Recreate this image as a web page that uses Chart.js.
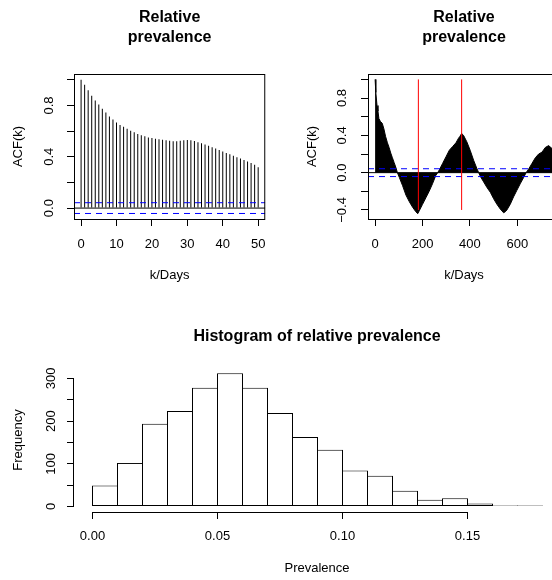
<!DOCTYPE html>
<html>
<head>
<meta charset="utf-8">
<script src="https://cdn.jsdelivr.net/npm/chart.js@4.4.0/dist/chart.umd.min.js"></script>
<style>
	html, body { margin: 0; padding: 0; background: #fff; overflow: hidden; width: 552px; height: 580px; }
	canvas { position: absolute; }
</style>
</head>
<body>
<canvas id="acfShort" width="276" height="300" style="left:0px;top:0px"></canvas>
<canvas id="acfLong" width="284" height="300" style="left:276px;top:0px"></canvas>
<canvas id="hist" width="560" height="280" style="left:0px;top:300px"></canvas>
<script>
// ACF of relative prevalence, lags 0..50 days
var shortLags = [0,1,2,3,4,5,6,7,8,9,10,11,12,13,14,15,16,17,18,19,20,21,22,23,24,25,26,27,28,29,30,31,32,33,34,35,36,37,38,39,40,41,42,43,44,45,46,47,48,49,50];
var shortAcf = [1.000,0.961,0.918,0.876,0.838,0.807,0.774,0.744,0.714,0.690,0.667,0.648,0.633,0.618,0.603,0.592,0.578,0.568,0.560,0.551,
	0.546,0.540,0.536,0.533,0.529,0.524,0.520,0.520,0.525,0.529,0.530,0.528,0.522,0.514,0.506,0.496,0.486,0.475,0.464,0.452,
	0.441,0.430,0.419,0.408,0.397,0.386,0.375,0.363,0.351,0.338,0.318];

// ACF over two years
var longLags = [0,3,8,12,16,22,30,37,44,52,59,66,73,80,87,94,102,116,130,144,158,172,180,186,200,214,228,242,256,264,271,285,299,313,327,341,352,358,365,373,
	387,401,416,430,437,444,458,472,486,500,514,528,542,549,556,570,584,598,612,627,637,648,662,676,690,704,718,732,746,750];
var longAcf = [1.00,0.86,0.72,0.66,0.58,0.55,0.53,0.47,0.39,0.32,0.27,0.21,0.16,0.11,0.06,0.00,-0.05,-0.14,-0.24,-0.31,-0.37,-0.42,-0.44,-0.41,-0.34,-0.27,-0.20,-0.12,-0.03,0.00,
	0.03,0.10,0.17,0.24,0.28,0.32,0.37,0.39,0.42,0.40,0.33,0.24,0.13,0.04,0.00,-0.04,-0.10,-0.16,-0.21,-0.28,-0.34,-0.39,-0.43,-0.42,-0.40,-0.34,-0.26,-0.19,-0.12,-0.05,
	0.00,0.04,0.10,0.16,0.20,0.22,0.27,0.29,0.26,0.25];
var seasonLines = [182.5, 365];   // half year and one year
var ciLimit = 0.042;

// histogram
var binEdges = [0,0.01,0.02,0.03,0.04,0.05,0.06,0.07,0.08,0.09,0.10,0.11,0.12,0.13,0.14,0.15,0.16,0.17,0.18];
var binCounts = [49,102,194,224,278,312,278,219,163,133,84,72,37,16,19,7,2,1];

// axis ticks
var shortXTicks = [0,10,20,30,40,50];
var shortYTicks = [0,0.2,0.4,0.6,0.8,1.0];
var shortYLabels = [0,0.4,0.8];
var longXTicks = [0,200,400,600];
var longYTicks = [-0.4,-0.2,0,0.2,0.4,0.6,0.8,1.0];
var longYLabels = [-0.4,0,0.4,0.8];
var histXTicks = [0,0.05,0.10,0.15];
var histYTicks = [0,50,100,150,200,250,300];
var histYLabels = [0,100,200,300];

var FONT = '"Liberation Sans", Arial, Helvetica, sans-serif';
Chart.defaults.font.family = FONT;
Chart.defaults.font.size = 13;
Chart.defaults.color = '#000';

function fmt1(v) {
	var s = Math.abs(v).toFixed(1);
	return v < 0 ? '\u2212' + s : s;
}

// R-like frame, axis lines and rotated y labels
function rAxes(cfg) {
	return {
		id: 'rAxes',
		afterDraw: function(chart) {
			var ctx = chart.ctx, a = chart.chartArea;
			var xs = chart.scales.x, ys = chart.scales.y;
			ctx.save();
			ctx.strokeStyle = '#000';
			ctx.lineWidth = 1;
			if (cfg.box) {
				ctx.strokeRect(a.left + 0.5, a.top + 0.5, a.right - a.left - 1, a.bottom - a.top);
			}
			if (cfg.xLine) {
				ctx.beginPath();
				ctx.moveTo(Math.floor(xs.getPixelForValue(cfg.xLine[0])), a.bottom + 0.5);
				ctx.lineTo(Math.floor(xs.getPixelForValue(cfg.xLine[1])) + 1, a.bottom + 0.5);
				ctx.stroke();
			}
			if (cfg.yLine) {
				ctx.beginPath();
				ctx.moveTo(a.left - 0.5, ys.getPixelForValue(cfg.yLine[0]));
				ctx.lineTo(a.left - 0.5, ys.getPixelForValue(cfg.yLine[1]));
				ctx.stroke();
			}
			ctx.fillStyle = '#000';
			ctx.font = '13px ' + FONT;
			ctx.textAlign = 'center';
			ctx.textBaseline = 'middle';
			cfg.yLabels.forEach(function(v) {
				ctx.save();
				ctx.translate(a.left - cfg.yOff, ys.getPixelForValue(v));
				ctx.rotate(-Math.PI / 2);
				ctx.fillText(cfg.yFmt(v), 0, 0);
				ctx.restore();
			});
			ctx.restore();
		}
	};
}

function xScale(min, max, ticks, fmt, tickPad, title, titlePad, height) {
	return {
		type: 'linear', min: min, max: max, offset: false,
		grid: { display: true, offset: false, drawOnChartArea: false, drawTicks: true, tickLength: 7, color: '#000' },
		border: { display: false },
		ticks: { padding: tickPad, maxRotation: 0, autoSkip: false, callback: fmt },
		title: { display: true, text: title, padding: { top: 0, bottom: titlePad } },
		afterBuildTicks: function(s) { s.ticks = ticks.map(function(v) { return { value: v }; }); },
		afterFit: function(s) { s.height = height; }
	};
}

function yScale(min, max, ticks, title, titlePad, width) {
	return {
		type: 'linear', min: min, max: max,
		grid: { display: true, drawOnChartArea: false, drawTicks: true, tickLength: 7, color: '#000' },
		border: { display: false },
		ticks: { display: false },
		title: { display: true, text: title, padding: { top: titlePad, bottom: 0 } },
		afterBuildTicks: function(s) { s.ticks = ticks.map(function(v) { return { value: v }; }); },
		afterFit: function(s) { s.width = width; }
	};
}

function hLine(x0, x1, y, color, dash, order) {
	return { type: 'line', data: [{ x: x0, y: y }, { x: x1, y: y }], borderColor: color, borderWidth: 1,
		borderDash: dash, pointRadius: 0, fill: false, order: order };
}

var titleOpts = { display: true, text: ['Relative', 'prevalence'], fullSize: false,
	font: { size: 16, weight: 'bold' }, color: '#000', padding: { top: 8.4, bottom: 27.2 } };

// --- short lag ACF
new Chart(document.getElementById('acfShort'), {
	type: 'bar',
	data: {
		datasets: [
			hLine(-2, 52, ciLimit, '#0000ff', [6, 5], 0),
			hLine(-2, 52, -ciLimit, '#0000ff', [6, 5], 0),
			hLine(-2, 52, 0, '#000', [], 1),
			{ type: 'bar', data: shortLags.map(function(k, i) { return { x: k, y: shortAcf[i] }; }),
				backgroundColor: '#000', barThickness: 1, inflateAmount: 0, order: 2 }
		]
	},
	options: {
		responsive: false, animation: false, devicePixelRatio: 1,
		layout: { padding: { left: 0, right: 9, top: 0, bottom: 0 } },
		plugins: { legend: { display: false }, tooltip: { enabled: false }, title: titleOpts },
		scales: {
			x: xScale(-2, 52, shortXTicks, function(v) { return String(v); }, 10.2, 'k/Days', 17.2, 81),
			y: yScale(-0.085, 1.045, shortYTicks, 'ACF(k)', 10.9, 74)
		}
	},
	plugins: [rAxes({ box: true, yLabels: shortYLabels, yFmt: fmt1, yOff: 24.5 })]
});

// --- two year ACF
var longSets = [
	hLine(-30, 780, ciLimit, '#0000ff', [6, 5], 1),
	hLine(-30, 780, -ciLimit, '#0000ff', [6, 5], 1),
	hLine(-30, 780, 0, '#000', [], 2),
	{ type: 'line', data: longLags.map(function(k, i) { return { x: k, y: longAcf[i] }; }),
		borderColor: '#000', backgroundColor: '#000', borderWidth: 1, pointRadius: 0, fill: 'origin', tension: 0, order: 3 }
];
seasonLines.forEach(function(d) {
	longSets.push({ type: 'line', data: [{ x: d, y: -0.4 }, { x: d, y: 1 }], borderColor: '#ff0000', borderWidth: 1,
		pointRadius: 0, fill: false, order: 0 });
});
new Chart(document.getElementById('acfLong'), {
	type: 'line',
	data: { datasets: longSets },
	options: {
		responsive: false, animation: false, devicePixelRatio: 1,
		layout: { padding: { left: 0, right: 0, top: 0, bottom: 0 } },
		plugins: { legend: { display: false }, tooltip: { enabled: false }, title: titleOpts },
		scales: {
			x: xScale(-30, 780, longXTicks, function(v) { return String(v); }, 10.2, 'k/Days', 17.2, 81),
			y: yScale(-0.497, 1.058, longYTicks, 'ACF(k)', 28.5, 92)
		}
	},
	plugins: [rAxes({ box: true, yLabels: longYLabels, yFmt: fmt1, yOff: 25.5 })]
});

// --- histogram
new Chart(document.getElementById('hist'), {
	type: 'bar',
	data: {
		datasets: [{
			data: binCounts.map(function(c, i) { return { x: (binEdges[i] + binEdges[i + 1]) / 2, y: c }; }),
			backgroundColor: '#fff', borderColor: '#000', borderSkipped: false, borderWidth: 1,
			barPercentage: 1.04, categoryPercentage: 1, grouped: false, inflateAmount: 0, minBarLength: 1
		}]
	},
	options: {
		responsive: false, animation: false, devicePixelRatio: 1,
		layout: { padding: { left: 0, right: 0, top: 0, bottom: 0 } },
		plugins: { legend: { display: false }, tooltip: { enabled: false },
			title: { display: true, text: 'Histogram of relative prevalence', fullSize: false,
				font: { size: 16, weight: 'bold' }, color: '#000', padding: { top: 27.4, bottom: 21.4 } } },
		scales: {
			x: xScale(-0.0074, 0.187, histXTicks, function(v) { return v.toFixed(2); }, 9.2, 'Prevalence', 4.2, 68),
			y: yScale(-13, 324.5, histYTicks, 'Frequency', 10.7, 74)
		}
	},
	plugins: [rAxes({ box: false, xLine: [0, 0.15], yLine: [0, 300], yLabels: histYLabels,
		yFmt: function(v) { return String(v); }, yOff: 23 })]
});
</script>
</body>
</html>
